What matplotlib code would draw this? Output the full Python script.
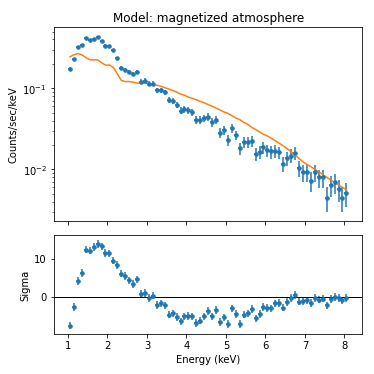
import matplotlib
matplotlib.use("Agg")
import matplotlib.pyplot as plt
import numpy as np

# energy bin centres (keV), 0.1 keV bins
energy = [1.05, 1.15, 1.25, 1.35, 1.45, 1.55, 1.65, 1.75, 1.85, 1.95,
          2.05, 2.15, 2.25, 2.35, 2.45, 2.55, 2.65, 2.75, 2.85, 2.95,
          3.05, 3.15, 3.25, 3.35, 3.45, 3.55, 3.65, 3.75, 3.85, 3.95,
          4.05, 4.15, 4.25, 4.35, 4.45, 4.55, 4.65, 4.75, 4.85, 4.95,
          5.05, 5.15, 5.25, 5.35, 5.45, 5.55, 5.65, 5.75, 5.85, 5.95,
          6.05, 6.15, 6.25, 6.35, 6.45, 6.55, 6.65, 6.75, 6.85, 6.95,
          7.05, 7.15, 7.25, 7.35, 7.45, 7.55, 7.65, 7.75, 7.85, 7.95,
          8.05]
bin_half = 0.05

# observed count rate (counts/sec/keV)
rate = [0.174, 0.228, 0.319, 0.341, 0.418, 0.394, 0.406, 0.425, 0.383, 0.335,
        0.332, 0.296, 0.235, 0.180, 0.168, 0.160, 0.150, 0.157, 0.121, 0.124,
        0.114, 0.114, 0.0944, 0.0944, 0.089, 0.0715, 0.0695, 0.0625, 0.0531, 0.0552,
        0.0541, 0.0506, 0.041, 0.041, 0.0426, 0.0447, 0.038, 0.041, 0.0284, 0.0307,
        0.023, 0.0319, 0.0264, 0.0181, 0.0218, 0.0218, 0.0224, 0.0154, 0.0163, 0.0188,
        0.0171, 0.0166, 0.0169, 0.0162, 0.0118, 0.0137, 0.0148, 0.0160, 0.0104, 0.00917,
        0.00917, 0.00722, 0.00917, 0.00794, 0.00794, 0.00447, 0.00637, 0.00688, 0.00568, 0.00447,
        0.00516]

rate_err = [0.0096, 0.0110, 0.0130, 0.0134, 0.0149, 0.0144, 0.0147, 0.0150, 0.0142, 0.0133,
            0.0132, 0.0125, 0.0112, 0.0098, 0.0094, 0.0092, 0.0089, 0.0091, 0.0080, 0.0081,
            0.0078, 0.0078, 0.0071, 0.0071, 0.0069, 0.0062, 0.0061, 0.0058, 0.0053, 0.0054,
            0.0054, 0.0052, 0.0047, 0.0047, 0.0047, 0.0049, 0.0045, 0.0047, 0.0039, 0.0040,
            0.0035, 0.0041, 0.0037, 0.0031, 0.0034, 0.0034, 0.0034, 0.0029, 0.0029, 0.0032,
            0.0030, 0.0030, 0.0030, 0.0029, 0.0025, 0.0027, 0.0028, 0.0029, 0.0023, 0.0022,
            0.0022, 0.0020, 0.0022, 0.0020, 0.0020, 0.0015, 0.0018, 0.0019, 0.0017, 0.0015,
            0.0017]

# magnetized atmosphere model
model = [0.244, 0.259, 0.268, 0.259, 0.240, 0.225, 0.224, 0.225, 0.207, 0.193,
         0.194, 0.180, 0.151, 0.125, 0.121, 0.121, 0.119, 0.116, 0.115, 0.117,
         0.114, 0.112, 0.109, 0.106, 0.102, 0.098, 0.094, 0.090, 0.085, 0.082,
         0.078, 0.075, 0.072, 0.069, 0.066, 0.063, 0.060, 0.057, 0.054, 0.051,
         0.049, 0.046, 0.043, 0.041, 0.038, 0.036, 0.033, 0.031, 0.029, 0.027,
         0.0258, 0.0242, 0.0225, 0.0210, 0.0195, 0.0180, 0.0165, 0.0150, 0.0136, 0.0124,
         0.0115, 0.0108, 0.0100, 0.0093, 0.0086, 0.0080, 0.0074, 0.0069, 0.0064, 0.0060,
         0.0056]

# residuals in units of sigma
sigma = [-7.5, -2.7, 4.2, 6.3, 12.4, 12.1, 13.0, 13.9, 13.2, 11.5,
         11.4, 9.5, 8.3, 6.1, 5.4, 4.3, 3.3, 4.6, 0.8, 1.05,
         -0.35, 0.35, -2.1, -1.7, -2.2, -4.6, -4.3, -5.3, -6.4, -5.1,
         -5.0, -5.1, -6.75, -6.2, -5.1, -3.7, -5.1, -3.4, -6.6, -5.35,
         -7.1, -3.0, -4.5, -7.0, -4.6, -4.3, -3.2, -5.6, -4.4, -2.7,
         -2.9, -3.0, -1.7, -1.5, -2.8, -1.4, -0.35, 0.45, -1.2, -1.15,
         -0.9, -1.6, -0.25, -0.7, -0.45, -2.2, -0.5, 0.0, -0.35, -0.9,
         -0.25]

fig = plt.figure(figsize=(5.2, 5.2), dpi=72)
ax1 = fig.add_axes([0.144, 0.409, 0.824, 0.517])
ax2 = fig.add_axes([0.144, 0.107, 0.824, 0.263], sharex=ax1)

ax1.errorbar(energy, rate, xerr=bin_half, yerr=rate_err, fmt="o", ms=3.5,
             color="C0", elinewidth=1.5)
ax1.plot(energy, model, color="C1", lw=1.5)
ax1.set_yscale("log")
ax1.set_ylabel("Counts/sec/keV")
ax1.set_title("Model: magnetized atmosphere")
ax1.tick_params(labelbottom=False)

ax2.errorbar(energy, sigma, xerr=bin_half, yerr=1, fmt="o", ms=3.5,
             color="C0", elinewidth=1.5)
ax2.axhline(0, color="black", lw=1)
ax2.set_yticks([0, 10])
ax2.set_ylabel("Sigma")
ax2.set_xlabel("Energy (keV)")

fig.savefig("out.png")
